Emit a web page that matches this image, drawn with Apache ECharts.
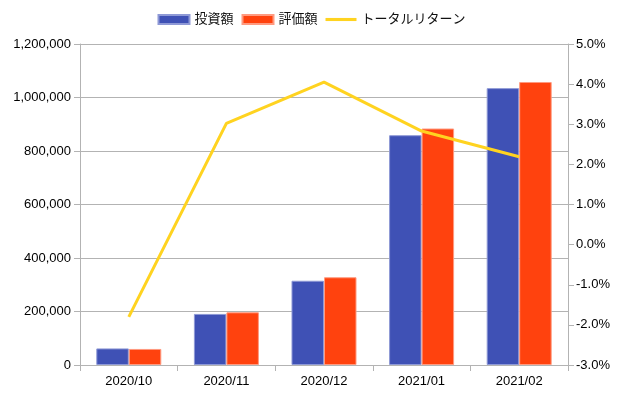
<!DOCTYPE html>
<html>
<head>
<meta charset="utf-8">
<script src="https://cdn.jsdelivr.net/npm/echarts@6/dist/echarts.min.js"></script>
<style>html,body{margin:0;padding:0;background:#fff;}#c{width:623px;height:397px;}</style>
</head>
<body>
<div id="c"></div>
<script>
const categories = ['2020/10', '2020/11', '2020/12', '2021/01', '2021/02'];
const investment = [62000, 191000, 315000, 859000, 1035000];
const valuation = [60000, 197000, 328000, 884000, 1058000];
const totalReturn = [-1.8, 3.02, 4.05, 2.83, 2.19];

const font = '"Liberation Sans", "Noto Sans CJK JP", sans-serif';
const chart = echarts.init(document.getElementById('c'), null, {renderer: 'canvas'});
chart.setOption({
  animation: false,
  textStyle: {fontFamily: font},
  legend: {
    top: 8,
    left: 'center',
    itemWidth: 31,
    itemHeight: 9,
    itemGap: 8,
    textStyle: {fontFamily: font, fontSize: 13, color: '#111'},
    data: [
      {name: '投資額', icon: 'rect'},
      {name: '評価額', icon: 'rect'},
      {name: 'トータルリターン', icon: 'path://M0,0 L30,0 L30,3 L0,3 Z'}
    ]
  },
  grid: {left: 80, right: 55, top: 44, bottom: 32, containLabel: false},
  xAxis: {
    type: 'category',
    data: categories,
    axisLine: {lineStyle: {color: '#b3b3b3'}},
    axisTick: {show: true, length: 6, lineStyle: {color: '#b3b3b3'}},
    axisLabel: {color: '#000', fontSize: 13, margin: 10, fontFamily: font}
  },
  yAxis: [
    {
      type: 'value', min: 0, max: 1200000, interval: 200000,
      axisLine: {show: true, lineStyle: {color: '#b3b3b3'}},
      axisTick: {show: true, length: 6, lineStyle: {color: '#b3b3b3'}},
      splitLine: {lineStyle: {color: '#b3b3b3'}},
      axisLabel: {color: '#000', fontSize: 13, margin: 9, fontFamily: font,
        formatter: v => String(v).replace(/\B(?=(\d{3})+(?!\d))/g, ',')}
    },
    {
      type: 'value', min: -3, max: 5, interval: 1, position: 'right',
      axisLine: {show: true, lineStyle: {color: '#b3b3b3'}},
      axisTick: {show: true, length: 6, lineStyle: {color: '#b3b3b3'}},
      splitLine: {show: false},
      axisLabel: {color: '#000', fontSize: 13, margin: 8, fontFamily: font,
        formatter: v => v.toFixed(1) + '%'}
    }
  ],
  series: [
    {
      name: '投資額', type: 'bar', data: investment, yAxisIndex: 0,
      barWidth: '33.3%', barGap: '0%',
      itemStyle: {color: '#3f51b5', borderColor: '#8e99d6', borderWidth: 1}
    },
    {
      name: '評価額', type: 'bar', data: valuation, yAxisIndex: 0,
      barWidth: '33.3%', barGap: '0%',
      itemStyle: {color: '#ff420e', borderColor: '#ff9a80', borderWidth: 1}
    },
    {
      name: 'トータルリターン', type: 'line', data: totalReturn, yAxisIndex: 1,
      showSymbol: false, symbol: 'none',
      lineStyle: {color: '#ffd320', width: 3},
      itemStyle: {color: '#ffd320'}
    }
  ]
});
</script>
</body>
</html>
